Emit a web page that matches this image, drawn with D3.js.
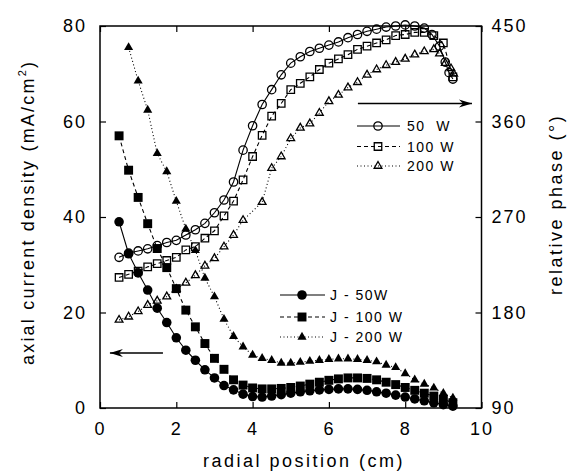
<!DOCTYPE html>
<html>
<head>
<meta charset="utf-8">
<script src="https://cdnjs.cloudflare.com/ajax/libs/d3/7.8.5/d3.min.js"></script>
<style>
body { margin: 0; background: #fff; }
svg { display: block; }
text { font-family: "Liberation Sans", Arial, sans-serif; fill: #000; }
</style>
</head>
<body>
<svg width="572" height="472"></svg>
<script>
// radial positions (cm)
const rGrid = [0.5,0.75,1,1.25,1.5,1.75,2,2.25,2.5,2.75,3,3.25,3.5,3.75,4,4.25,4.5,4.75,5,5.25,5.5,5.75,6,6.25,6.5,6.75,7,7.25,7.5,7.75,8,8.25,8.5,8.75,9,9.25];
const rJ200 = [0.75,1,1.25,1.5,1.75,2,2.25,2.5,2.75,3,3.25,3.5,3.75,4,4.25,4.5,4.75,5,5.25,5.5,5.75,6,6.25,6.5,6.75,7,7.25,7.5,7.75,8,8.25,8.5,8.75,9,9.25];
const rPhase50 = [0.5,0.75,1,1.25,1.5,1.75,2,2.25,2.5,2.75,3,3.25,3.5,3.75,4,4.25,4.5,4.75,5,5.25,5.5,5.75,6,6.25,6.5,6.75,7,7.25,7.5,7.75,8,8.25,8.5,8.7,8.9,9.05,9.15,9.25];
const rPhase200 = [0.5,0.75,1,1.25,1.5,1.75,2,2.25,2.5,2.75,3,3.25,3.5,3.75,4.25,4.5,4.75,5,5.25,5.5,5.75,6,6.25,6.5,6.75,7,7.25,7.5,7.75,8,8.25,8.5,8.75,8.9,9.05,9.2,9.27];

// axial current density (mA/cm2)
const j50 = [39,32.3,28.3,24.7,20.9,17.9,14.7,12.1,10,8,6.3,4.7,3.8,2.9,2.4,2.3,2.5,2.8,3.1,3.4,3.6,3.8,3.9,4,4,3.9,3.7,3.4,3.1,2.7,2.3,1.9,1.5,1.1,0.7,0.4];
const j100 = [57,49.8,44.1,38.6,33.4,29.4,25,20.5,17,13.5,10.4,8.1,5.9,4.8,4.2,4,4,4.1,4.3,4.6,5,5.4,5.8,6.1,6.3,6.3,6.2,5.9,5.4,4.9,4.3,3.7,3.1,2.5,1.8,1.1];
const j200 = [75.5,68.5,62.4,53.3,49.5,43.3,37.5,33,27.2,23.3,18.6,15,12.8,11.1,10.4,10,9.4,9.4,9.6,9.8,10,10.2,10.3,10.3,10.2,10,9.7,9,8.5,7.2,5.9,5,4.2,3.1,2.1];

// relative phase (deg)
const phase50 = [232,236,238,240,243,246,248,253,258,264,274,286,303,333,356,376,390,404,415,421,426,429,432,435,439,442,445,447,449,450,451,450,448,442,431,416,406,400];
const phase100 = [213,216,219,223,226,229,232,239,242,250,257,271,285,305,327,347,365,377,390,396,402,409,415,419,423,428,431,434,437,441,442,444,444,441,434,402];
const phase200 = [173,176,181,187,191,195,202,208,215,224,231,242,253,267,284,316,327,344,354,358,368,379,385,392,397,404,409,413,416,419,423,426,428,424,415,410,405];

const xTicks = [0,2,4,6,8,10];
const yTicks = [0,20,40,60,80];
const phaseTicks = [90,180,270,360,450];

const svg = d3.select('svg');
const plotLeft = 100, plotRight = 481.5, plotTop = 26, plotBottom = 408;

const x = d3.scaleLinear().domain([0, 10]).range([plotLeft, plotRight]);
const y = d3.scaleLinear().domain([0, 80]).range([plotBottom, plotTop]);
const yp = d3.scaleLinear().domain([90, 450]).range([plotBottom, plotTop]);

const tickFont = g => g.selectAll('text')
    .attr('font-size', 18)
    .attr('letter-spacing', 2)
    .attr('font-family', '"Liberation Sans", Arial, sans-serif');

const clean = g => {
  g.select('.domain').remove();
  g.selectAll('line').attr('stroke', '#000').attr('stroke-width', 1.2);
};

svg.append('g')
    .attr('transform', `translate(0, ${ plotBottom })`)
    .call(d3.axisBottom(x).tickValues(xTicks).tickSizeInner(-6).tickSizeOuter(0).tickPadding(14))
    .call(clean).call(tickFont);

svg.append('g')
    .attr('transform', `translate(0, ${ plotTop })`)
    .call(d3.axisTop(x).tickValues(xTicks).tickSizeInner(-6).tickSizeOuter(0).tickFormat(''))
    .call(clean);

svg.append('g')
    .attr('transform', `translate(${ plotLeft }, 0)`)
    .call(d3.axisLeft(y).tickValues(yTicks).tickSizeInner(-6).tickSizeOuter(0).tickPadding(13))
    .call(clean).call(tickFont);

svg.append('g')
    .attr('transform', `translate(${ plotRight }, 0)`)
    .call(d3.axisRight(yp).tickValues(phaseTicks).tickSizeInner(-6).tickSizeOuter(0).tickPadding(10))
    .call(clean).call(tickFont);

svg.append('rect')
    .attr('x', plotLeft).attr('y', plotTop)
    .attr('width', plotRight - plotLeft).attr('height', plotBottom - plotTop)
    .attr('fill', 'none').attr('stroke', '#000').attr('stroke-width', 1.5);

// series
const series = [
  { r: rGrid, v: j50, scale: y, dash: null, sym: d3.symbolCircle, size: 72, filled: true },
  { r: rGrid, v: j100, scale: y, dash: '4,3', sym: d3.symbolSquare, size: 80, filled: true },
  { r: rJ200, v: j200, scale: y, dash: '1,2.5', sym: d3.symbolTriangle, size: 36, filled: true },
  { r: rPhase50, v: phase50, scale: yp, dash: null, sym: d3.symbolCircle, size: 55, filled: false },
  { r: rGrid, v: phase100, scale: yp, dash: '4,3', sym: d3.symbolSquare, size: 56, filled: false },
  { r: rPhase200, v: phase200, scale: yp, dash: '1,2.5', sym: d3.symbolTriangle, size: 26, filled: false }
];

series.forEach(s => {
  const pts = s.r.map((r, i) => [r, s.v[i]]);
  svg.append('path')
      .attr('d', d3.line().x(d => x(d[0])).y(d => s.scale(d[1]))(pts))
      .attr('fill', 'none')
      .attr('stroke', '#000')
      .attr('stroke-width', 1.1)
      .attr('stroke-dasharray', s.dash);
  svg.append('g').selectAll('path')
    .data(pts)
    .join('path')
      .attr('transform', d => `translate(${ x(d[0]) }, ${ s.scale(d[1]) })`)
      .attr('d', d3.symbol(s.sym, s.size))
      .attr('fill', s.filled ? '#000' : 'none')
      .attr('stroke', '#000')
      .attr('stroke-width', s.filled ? 0 : 1.3);
});

// legends
const legend = (x0, x1, xm, xt, rows) => {
  rows.forEach(row => {
    const g = svg.append('g').attr('transform', `translate(0, ${ row.y })`);
    g.append('line')
        .attr('x1', x0).attr('x2', x1)
        .attr('stroke', '#000').attr('stroke-width', 1.1)
        .attr('stroke-dasharray', row.dash);
    g.append('path')
        .attr('transform', `translate(${ xm }, 0)`)
        .attr('d', d3.symbol(row.sym, row.size))
        .attr('fill', row.filled ? '#000' : 'none')
        .attr('stroke', '#000')
        .attr('stroke-width', row.filled ? 0 : 1.3);
    g.append('text')
        .attr('x', xt).attr('y', 5)
        .attr('font-size', 14)
        .attr('letter-spacing', 1.5)
        .style('white-space', 'pre')
        .text(row.label);
  });
};

legend(357, 400, 378, 407, [
  { y: 126, label: '50  W', dash: null, sym: d3.symbolCircle, size: 55, filled: false },
  { y: 146.5, label: '100 W', dash: '4,3', sym: d3.symbolSquare, size: 56, filled: false },
  { y: 166, label: '200 W', dash: '1,2.5', sym: d3.symbolTriangle, size: 26, filled: false }
]);

legend(280, 325, 302, 330, [
  { y: 295, label: 'J - 50W', dash: null, sym: d3.symbolCircle, size: 72, filled: true },
  { y: 317, label: 'J - 100 W', dash: '4,3', sym: d3.symbolSquare, size: 80, filled: true },
  { y: 337, label: 'J - 200 W', dash: '1,2.5', sym: d3.symbolTriangle, size: 36, filled: true }
]);

// arrows pointing to the axes
const arrow = (r0, r1, yy, dir) => {
  svg.append('line')
      .attr('x1', x(r0)).attr('x2', x(r1))
      .attr('y1', yy).attr('y2', yy)
      .attr('stroke', '#000').attr('stroke-width', 1.5);
  const tip = x(r1);
  svg.append('path')
      .attr('d', `M${ tip },${ yy } L${ tip - dir * 13 },${ yy - 4 } L${ tip - dir * 9 },${ yy } L${ tip - dir * 13 },${ yy + 4 } Z`)
      .attr('fill', '#000');
};
arrow(6.76, 9.75, yp(377), 1);
arrow(1.65, 0.26, y(11.5), -1);

// axis titles
svg.append('text')
    .attr('x', 203).attr('y', 467)
    .attr('font-size', 18)
    .attr('letter-spacing', 2.5)
    .text('radial position (cm)');

const yt = svg.append('text')
    .attr('transform', 'translate(33.5, 365) rotate(-90)')
    .attr('font-size', 18)
    .attr('letter-spacing', 2.2);
yt.append('tspan').text('axial current density (mA/cm');
yt.append('tspan').attr('font-size', 11).attr('dy', -8).text('2');
yt.append('tspan').attr('dy', 8).text(')');

svg.append('text')
    .attr('transform', 'translate(562, 295) rotate(-90)')
    .attr('font-size', 18)
    .attr('letter-spacing', 2.5)
    .text('relative phase (°)');
</script>
</body>
</html>
